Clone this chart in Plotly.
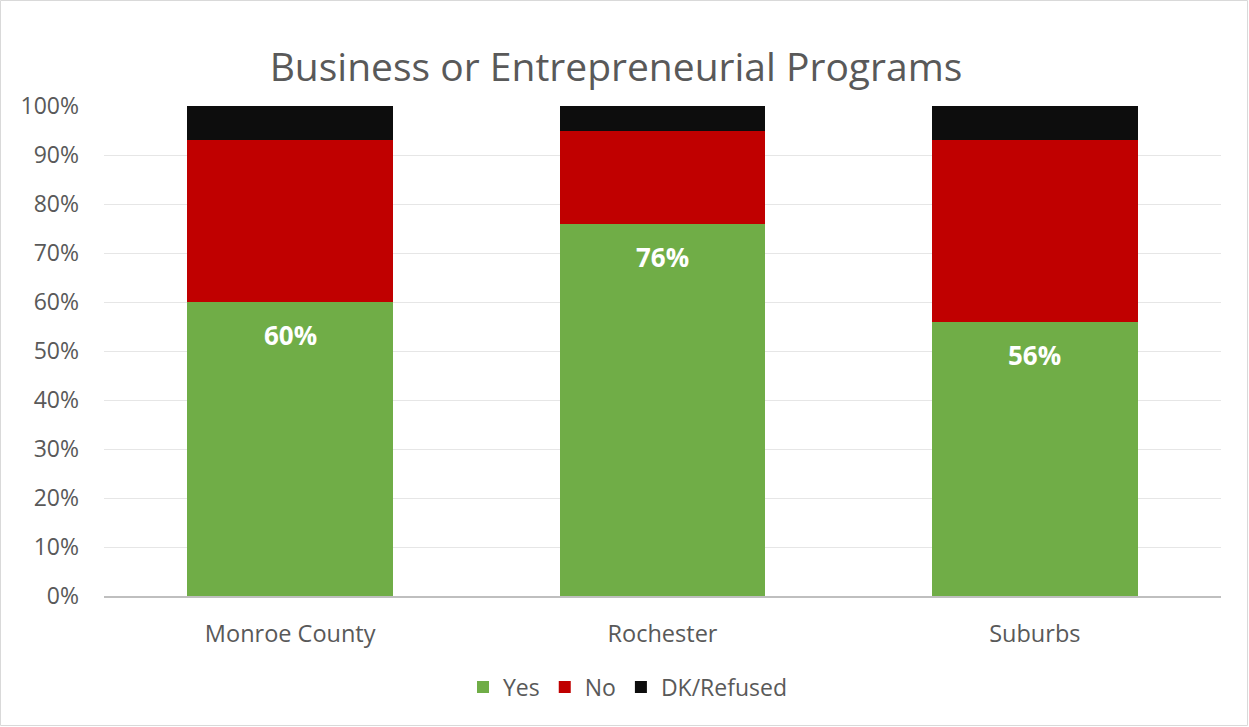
import plotly.graph_objects as go

categories = ["Monroe County", "Rochester", "Suburbs"]
yes_vals = [60, 76, 56]
no_vals = [33, 19, 37]
dk_vals = [7, 5, 7]
y_ticks = [0, 10, 20, 30, 40, 50, 60, 70, 80, 90, 100]
y_tick_labels = [f"{v}%" for v in y_ticks]

W, H = 1249, 727
L, R, T, B = 104, 28, 106, 131
FONT = "Open Sans, sans-serif"
GRAY = "#595959"

fig = go.Figure()
fig.add_bar(x=categories, y=yes_vals, name="Yes", marker_color="#70ad47", marker_line_width=0)
fig.add_bar(x=categories, y=no_vals, name="No", marker_color="#c00000", marker_line_width=0)
fig.add_bar(x=categories, y=dk_vals, name="DK/Refused", marker_color="#0d0d0d", marker_line_width=0)

for c, v in zip(categories, yes_vals):
    fig.add_annotation(x=c, y=v, text=f"<b>{v}%</b>", showarrow=False, yshift=-33,
                       font=dict(family=FONT, size=26, color="white"))

pw = W - L - R
ph = H - T - B
fig.add_shape(type="rect", xref="paper", yref="paper",
              x0=-(L - 0.5) / pw, x1=1 + (R - 1.5) / pw,
              y0=-(B - 1.5) / ph, y1=1 + (T - 0.5) / ph,
              line=dict(color="#d9d9d9", width=1), fillcolor="rgba(0,0,0,0)", layer="below")

fig.update_layout(
    width=W, height=H, barmode="stack", bargap=0.447,
    margin=dict(l=L, r=R, t=T, b=B),
    paper_bgcolor="white", plot_bgcolor="white",
    font=dict(family=FONT, color=GRAY, size=23),
    title=dict(text="Business or Entrepreneurial Programs", x=616 / W, xanchor="center",
               y=1 - 67 / H, yanchor="middle", font=dict(family=FONT, size=39, color=GRAY)),
    legend=dict(orientation="h", x=(628 - L) / pw, xanchor="center", y=(596 - 687) / ph,
                yanchor="middle", font=dict(family=FONT, size=23, color=GRAY),
                traceorder="normal", itemwidth=30),
    showlegend=True,
)
fig.update_yaxes(range=[0, 100], tickvals=y_ticks, ticktext=y_tick_labels,
                 showgrid=True, gridcolor="#e6e6e6", gridwidth=1, zeroline=False,
                 showline=False, ticks="", ticklabelstandoff=24,
                 tickfont=dict(family=FONT, size=23, color=GRAY))
fig.update_xaxes(showline=True, linecolor="#bfbfbf", linewidth=2, ticks="",
                 ticklabelstandoff=16, tickfont=dict(family=FONT, size=23.5, color=GRAY))

fig.write_html("out.html", config={"displayModeBar": False},
               post_script="document.body.style.margin='0';")
